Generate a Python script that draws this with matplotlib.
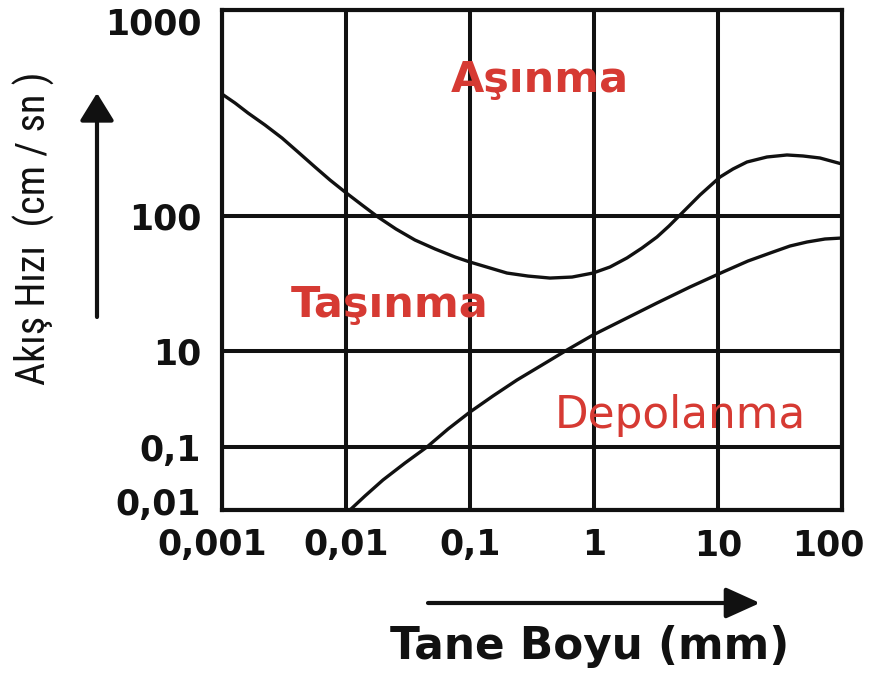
import numpy as np
import matplotlib
matplotlib.use("Agg")
import matplotlib.pyplot as plt
from matplotlib import font_manager as fm
from matplotlib.transforms import ScaledTranslation

# ---------------- data ----------------
x_ticks = [0.001, 0.01, 0.1, 1, 10, 100]
x_labels = ["0,001", "0,01", "0,1", "1", "10", "100"]
y_ticks = [0.01, 0.1, 10, 100, 1000]
y_labels = ["0,01", "0,1", "10", "100", "1000"]

# erosion (upper) curve: grain size (mm) -> velocity (cm/s)
erosion_size = [0.001, 0.001273, 0.001621, 0.002222, 0.003048, 0.004102,
                0.005623, 0.00743, 0.009815, 0.01346, 0.01811, 0.02529,
                0.03597, 0.05224, 0.07568, 0.1, 0.1449, 0.1986, 0.2938,
                0.4416, 0.6653, 0.9816, 1.346, 1.845, 2.438, 3.221, 4.027,
                4.94, 7.16, 10.38, 13.21, 17.14, 24.84, 35.98, 48.45, 66.5,
                100.0]
erosion_vel = [390.8, 353.7, 316.2, 276.5, 239.1, 204.5, 172.9, 149.5, 130.8,
               113.1, 98.3, 80.1, 66.4, 57.0, 49.7, 45.6, 41.2, 37.8, 35.9,
               34.7, 35.3, 37.8, 41.9, 48.9, 57.9, 69.9, 84.3, 101.1, 126.5,
               154.6, 169.1, 182.9, 193.4, 197.8, 195.6, 191.2, 178.8]

# deposition (lower) curve
depo_size = [0.01076, 0.01422, 0.01986, 0.02992, 0.04498, 0.06653, 0.1,
             0.1531, 0.2393, 0.3811, 0.6053, 0.9816, 1.778, 3.221, 5.943,
             10.97, 17.46, 27.78, 38.09, 52.21, 72.92, 100.0]
depo_vel = [0.01, 0.01668, 0.02993, 0.05574, 0.1, 0.2371, 0.5359, 1.155,
            2.488, 5.109, 10.17, 13.14, 17.26, 22.68, 29.79, 38.48, 46.42,
            54.12, 59.95, 64.18, 67.55, 68.71]

region_labels = ["Aşınma", "Taşınma", "Depolanma"]
xlabel_text = "Tane Boyu (mm)"
ylabel_text = "Akış Hızı  (cm / sn )"

RED = "#d63a33"
INK = "#111111"

# -------- custom (non-uniform) vertical scale as in the original figure -----
_ylog = np.array([-2.0, -1.0, 1.0, 2.0, 3.0])
_ypos = np.array([0.0, 63.0, 159.0, 294.0, 500.0])


def fwd(v):
    v = np.asarray(v, dtype=float)
    lv = np.log10(np.clip(v, 1e-300, None))
    return np.interp(lv, _ylog, _ypos)


def inv(p):
    p = np.asarray(p, dtype=float)
    return 10 ** np.interp(p, _ypos, _ylog)


def pick(cands):
    for c in cands:
        try:
            fm.findfont(fm.FontProperties(family=c), fallback_to_default=False)
            return c
        except Exception:
            pass
    return None


narrow = pick(["Liberation Sans Narrow", "Arial Narrow", "Roboto Condensed",
               "Open Sans Condensed"])

W, H = 876, 684
fig = plt.figure(figsize=(W / 100, H / 100), dpi=100)
ax = fig.add_axes([222 / W, (H - 510) / H, 620 / W, 500 / H])

ax.set_xscale("log")
ax.set_yscale("function", functions=(fwd, inv))
ax.set_xlim(0.001, 100)
ax.set_ylim(0.01, 1000)

ax.set_xticks(x_ticks)
ax.set_xticklabels(x_labels)
ax.set_yticks(y_ticks)
ax.set_yticklabels(y_labels)
ax.xaxis.set_minor_locator(matplotlib.ticker.NullLocator())
ax.yaxis.set_minor_locator(matplotlib.ticker.NullLocator())
ax.tick_params(axis="both", length=0)
ax.tick_params(axis="x", pad=13)
ax.tick_params(axis="y", pad=15)
for lab in ax.get_xticklabels() + ax.get_yticklabels():
    lab.set_fontfamily("DejaVu Sans")
    lab.set_fontweight("bold")
    lab.set_fontsize(25)
    lab.set_color(INK)


def shift(lab, dx_px, dy_px):
    lab.set_transform(lab.get_transform() +
                      ScaledTranslation(dx_px / 100, dy_px / 100,
                                        fig.dpi_scale_trans))


xl = ax.get_xticklabels()
yl = ax.get_yticklabels()
shift(xl[0], -10, 0)
shift(xl[-1], -14, 0)
shift(yl[0], 0, 9)
shift(yl[-1], 0, -11)

ax.grid(True, color=INK, linewidth=2.9)
ax.set_axisbelow(True)
for s in ax.spines.values():
    s.set_linewidth(3.0)
    s.set_color(INK)

ax.plot(erosion_size, erosion_vel, color=INK, lw=2.4,
        solid_joinstyle="round", solid_capstyle="butt", zorder=3)
ax.plot(depo_size, depo_vel, color=INK, lw=2.4,
        solid_joinstyle="round", solid_capstyle="butt", zorder=3)

ax.text(0.513, 0.836, region_labels[0], transform=ax.transAxes, ha="center",
        va="baseline", fontsize=31, fontweight="bold", color=RED,
        family="DejaVu Sans", zorder=4)
ax.text(0.271, 0.386, region_labels[1], transform=ax.transAxes, ha="center",
        va="baseline", fontsize=31, fontweight="bold", color=RED,
        family="DejaVu Sans", zorder=4)
ax.text(0.739, 0.164, region_labels[2], transform=ax.transAxes, ha="center",
        va="baseline", fontsize=31.5, fontweight="normal", color=RED,
        family="DejaVu Sans", zorder=4)

# axis titles
fig.text(590 / W, 1 - 647 / H, xlabel_text, ha="center", va="center",
         fontsize=31.5, fontweight="bold", family="DejaVu Sans", color=INK)
if narrow:
    fig.text(34 / W, 1 - 228 / H, ylabel_text, rotation=90, ha="center",
             va="center", fontsize=29, family=[narrow, "DejaVu Sans"],
             color=INK)
else:
    fig.text(34 / W, 1 - 228 / H, ylabel_text, rotation=90, ha="center",
             va="center", fontsize=27, family=["Liberation Sans", "DejaVu Sans"],
             color=INK)

# arrows (figure pixels)
ax.annotate("", xy=(97, H - 93), xytext=(97, H - 317),
            xycoords="figure pixels", textcoords="figure pixels",
            arrowprops=dict(arrowstyle="-|>,head_length=1.7,head_width=1.05",
                            lw=3, color=INK, shrinkA=0, shrinkB=0,
                            mutation_scale=10))
ax.annotate("", xy=(760, H - 603), xytext=(428, H - 603),
            xycoords="figure pixels", textcoords="figure pixels",
            arrowprops=dict(arrowstyle="-|>,head_length=2.1,head_width=0.95",
                            lw=3, color=INK, shrinkA=0, shrinkB=0,
                            mutation_scale=10))

fig.savefig("out.png", dpi=100)
